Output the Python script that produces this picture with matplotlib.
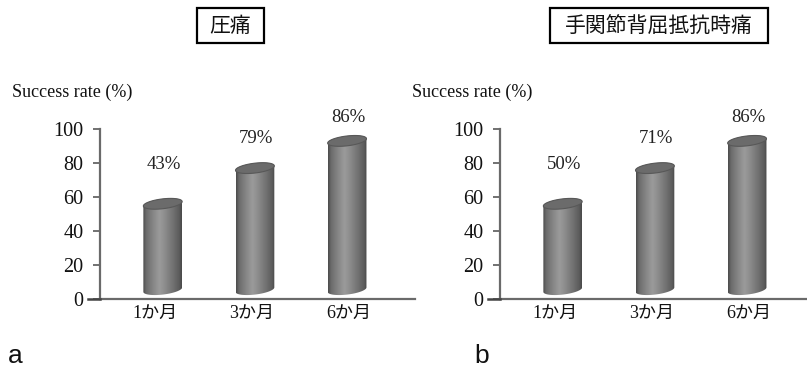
import numpy as np
import matplotlib
matplotlib.use("Agg")
import matplotlib.pyplot as plt
from matplotlib.patches import Rectangle, PathPatch
from matplotlib.path import Path
from matplotlib.colors import LinearSegmentedColormap

# ---------------- data ----------------
categories = ["1か月", "3か月", "6か月"]
panel_titles = ["圧痛", "手関節背屈抵抗時痛"]
panel_letters = ["a", "b"]
ylabel = "Success rate (%)"
yticks = [0, 20, 40, 60, 80, 100]
# bar heights as drawn (top of each cylinder)
heights_a = [56, 77, 93]
heights_b = [56, 77, 93]
# printed value labels
labels_a = ["43%", "79%", "86%"]
labels_b = ["50%", "71%", "86%"]

W, H = 807, 367
fig = plt.figure(figsize=(W / 100, H / 100), dpi=100)
fig.patch.set_facecolor("white")

SERIF = ["Liberation Serif", "Noto Sans CJK JP"]
CJK = ["Noto Sans CJK JP", "DejaVu Sans"]

cmap = LinearSegmentedColormap.from_list(
    "cyl",
    [(0.0, "#4c4c4c"), (0.08, "#6c6c6c"), (0.25, "#858585"), (0.42, "#9b9b9b"),
     (0.55, "#8e8e8e"), (0.8, "#6e6e6e"), (0.93, "#5c5c5c"), (1.0, "#4a4a4a")])


def px_axes(left, right, bottom, top):
    return fig.add_axes([left / W, 1 - bottom / H, (right - left) / W, (bottom - top) / H])


def cylinder(ax, xc, top, base=5.5, w=0.40, eh=2.9, tilt=2.6):
    xl, xr = xc - w / 2, xc + w / 2
    t1 = np.linspace(np.pi, 2 * np.pi, 60)
    t2 = np.linspace(0, np.pi, 60)
    bx = xc + w / 2 * np.cos(t1)
    by = base + eh * np.sin(t1) + tilt / 2 * np.cos(t1)
    tx = xc + w / 2 * np.cos(t2)
    ty = top + eh * np.sin(t2) + tilt / 2 * np.cos(t2)
    verts = np.concatenate([np.column_stack([bx, by]), np.column_stack([tx, ty]),
                            [[bx[0], by[0]]]])
    path = Path(verts, closed=True)
    patch = PathPatch(path, transform=ax.transData, facecolor="none", edgecolor="none")
    ax.add_patch(patch)
    grad = np.linspace(0, 1, 200)[None, :]
    im = ax.imshow(grad, cmap=cmap, aspect="auto",
                   extent=[xl, xr, base - eh - tilt, top + eh + tilt],
                   origin="lower", zorder=2, interpolation="bilinear")
    im.set_clip_path(patch)
    t = np.linspace(0, 2 * np.pi, 120)
    ex = xc + w / 2 * np.cos(t)
    ey = top + eh * np.sin(t) + tilt / 2 * np.cos(t)
    ax.fill(ex, ey, facecolor="#6b6b6b", edgecolor="#585858", lw=0.8, zorder=3)


def panel(x0, heights, labels, title, title_box, letter, letter_x):
    right = min(x0 + 415, W)
    ax = px_axes(x0 + 100, right, 299, 129)
    for i, h in enumerate(heights):
        cylinder(ax, 0.08 + 0.95 * i, h)
    pads = [23, 17.5, 14]
    for i, (h, lab) in enumerate(zip(heights, labels)):
        ax.text(0.09 + 0.95 * i, h + pads[i], lab, ha="center", va="center",
                fontsize=13.5, family=SERIF, color="#222222", clip_on=False)
    ax.set_ylim(0, 100)
    ax.set_xlim(-0.567, -0.567 + (right - x0 - 100) / 97)
    ax.set_yticks(yticks)
    ax.set_yticklabels([str(v) for v in yticks], family=SERIF, fontsize=14.5)
    ax.set_xticks(range(len(categories)))
    ax.set_xticklabels(categories, family=SERIF, fontsize=13)
    ax.tick_params(axis="y", length=5, width=1.3, color="#666666", pad=7, labelcolor="#111111")
    ax.tick_params(axis="x", length=0, pad=4, labelcolor="#111111")
    for s in ["top", "right"]:
        ax.spines[s].set_visible(False)
    for s in ["left", "bottom"]:
        ax.spines[s].set_color("#6a6a6a")
        ax.spines[s].set_linewidth(1.6)
    fig.add_artist(plt.Line2D([(x0 + 88) / W, (x0 + 100) / W], [1 - 299 / H, 1 - 299 / H],
                              color="#444444", lw=1.8))
    fig.text((x0 + 12) / W, 1 - 92 / H, ylabel, ha="left", va="center",
             fontsize=13, family=SERIF, color="#111111")
    bl, br = title_box
    fig.add_artist(Rectangle((bl / W, 1 - 43 / H), (br - bl) / W, 35 / H,
                             transform=fig.transFigure, facecolor="white",
                             edgecolor="black", lw=1.6))
    fig.text((bl + br) / 2 / W, 1 - 26 / H, title, ha="center", va="center",
             fontsize=15, family=CJK, color="#111111")
    fig.text(letter_x / W, 1 - 356 / H, letter, ha="left", va="center",
             fontsize=19, family=["Liberation Sans"], color="#111111")
    return ax


panel(0, heights_a, labels_a, panel_titles[0], (197, 264), panel_letters[0], 8)
panel(400, heights_b, labels_b, panel_titles[1], (550, 768), panel_letters[1], 474)

fig.savefig("out.png", dpi=100, facecolor="white")
